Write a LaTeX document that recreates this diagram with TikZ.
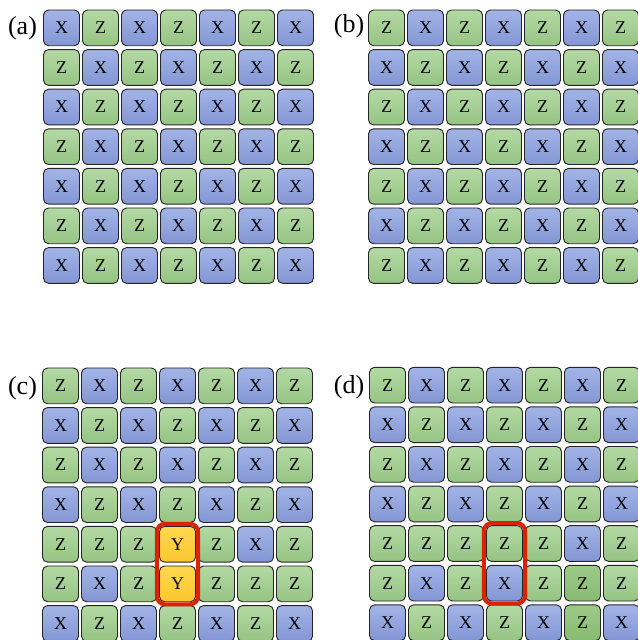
\documentclass[tikz,border=0pt]{standalone}
\usepackage{fontspec}
\setmainfont{Liberation Serif}
\usetikzlibrary{fit}
\definecolor{bluetop}{HTML}{A2B4E6}
\definecolor{bluebot}{HTML}{8396D4}
\definecolor{greentop}{HTML}{B4D9A4}
\definecolor{greenbot}{HTML}{95C483}
\definecolor{dgreentop}{HTML}{9CCA88}
\definecolor{dgreenbot}{HTML}{88BA72}
\definecolor{yellowtop}{HTML}{FFD84E}
\definecolor{yellowbot}{HTML}{FCC630}
\definecolor{redbox}{HTML}{DD2200}
\tikzset{
  tile/.style={draw=black!85, line width=0.7pt, rounded corners=3.8pt,
    minimum width=27pt, minimum height=26.8pt, inner sep=0pt,
    font=\fontsize{13.5pt}{15pt}\selectfont, text=black},
  tileX/.style={tile, top color=bluetop, bottom color=bluebot},
  tileZ/.style={tile, top color=greentop, bottom color=greenbot},
  tileW/.style={tile, top color=dgreentop, bottom color=dgreenbot},
  tileY/.style={tile, top color=yellowtop, bottom color=yellowbot},
  hilite/.style={draw=redbox, line width=3pt, rounded corners=6pt, inner sep=1.6pt},
  plabel/.style={font=\fontsize{19.5pt}{22pt}\selectfont, inner sep=0pt}
}
\newcommand{\txtX}{X}
\newcommand{\txtZ}{Z}
\newcommand{\txtW}{Z}
\newcommand{\txtY}{Y}
% \tilerow{panel}{x0}{y0}{row}{list}
\newcommand{\tilerow}[5]{%
  \foreach \t [count=\c from 0] in {#5} {%
    \node[tile\t] (#1-#4-\c) at ({#2+\c*39+18},{#3+#4*39.6+17.85})
      {\csname txt\t\endcsname};
  }%
}
\begin{document}
\begin{tikzpicture}[x=0.75pt,y=-0.75pt]
\useasboundingbox (0,0) rectangle (638,640);
% labels
\node[plabel] (la) at (22.5,28) {(a)};
\node[plabel] (lb) at (349,26) {(b)};
\node[plabel] (lc) at (22.5,388) {(c)};
\node[plabel] (ld) at (349,387) {(d)};
% panel a
\tilerow{a}{43.5}{10}{0}{X,Z,X,Z,X,Z,X}
\tilerow{a}{43.5}{10}{1}{Z,X,Z,X,Z,X,Z}
\tilerow{a}{43.5}{10}{2}{X,Z,X,Z,X,Z,X}
\tilerow{a}{43.5}{10}{3}{Z,X,Z,X,Z,X,Z}
\tilerow{a}{43.5}{10}{4}{X,Z,X,Z,X,Z,X}
\tilerow{a}{43.5}{10}{5}{Z,X,Z,X,Z,X,Z}
\tilerow{a}{43.5}{10}{6}{X,Z,X,Z,X,Z,X}
% panel b
\tilerow{b}{368.5}{10}{0}{Z,X,Z,X,Z,X,Z}
\tilerow{b}{368.5}{10}{1}{X,Z,X,Z,X,Z,X}
\tilerow{b}{368.5}{10}{2}{Z,X,Z,X,Z,X,Z}
\tilerow{b}{368.5}{10}{3}{X,Z,X,Z,X,Z,X}
\tilerow{b}{368.5}{10}{4}{Z,X,Z,X,Z,X,Z}
\tilerow{b}{368.5}{10}{5}{X,Z,X,Z,X,Z,X}
\tilerow{b}{368.5}{10}{6}{Z,X,Z,X,Z,X,Z}
% panel c
\tilerow{c}{42.5}{368}{0}{Z,X,Z,X,Z,X,Z}
\tilerow{c}{42.5}{368}{1}{X,Z,X,Z,X,Z,X}
\tilerow{c}{42.5}{368}{2}{Z,X,Z,X,Z,X,Z}
\tilerow{c}{42.5}{368}{3}{X,Z,X,Z,X,Z,X}
\tilerow{c}{42.5}{368}{4}{Z,Z,Z,Y,Z,X,Z}
\tilerow{c}{42.5}{368}{5}{Z,X,Z,Y,Z,Z,Z}
\tilerow{c}{42.5}{368}{6}{X,Z,X,Z,X,Z,X}
% panel d
\tilerow{d}{369.5}{367.3}{0}{Z,X,Z,X,Z,X,Z}
\tilerow{d}{369.5}{367.3}{1}{X,Z,X,Z,X,Z,X}
\tilerow{d}{369.5}{367.3}{2}{Z,X,Z,X,Z,X,Z}
\tilerow{d}{369.5}{367.3}{3}{X,Z,X,Z,X,Z,X}
\tilerow{d}{369.5}{367.3}{4}{Z,Z,Z,Z,Z,X,Z}
\tilerow{d}{369.5}{367.3}{5}{Z,X,Z,X,Z,W,Z}
\tilerow{d}{369.5}{367.3}{6}{X,Z,X,Z,X,W,X}
% highlights
\node[hilite, fit=(c-4-3)(c-5-3)] (hc) {};
\node[hilite, fit=(d-4-3)(d-5-3)] (hd) {};
\end{tikzpicture}
\end{document}
